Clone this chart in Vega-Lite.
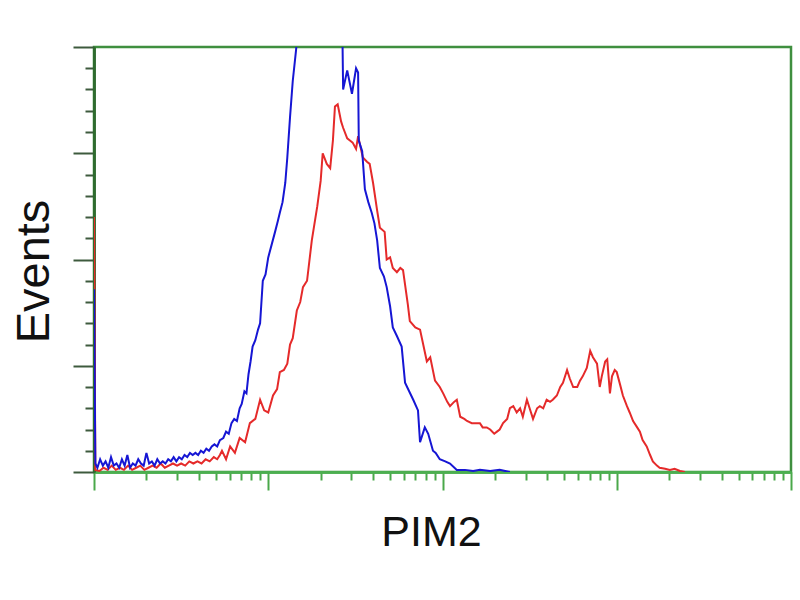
{
  "$schema": "https://vega.github.io/schema/vega-lite/v6.json",
  "width": 697,
  "height": 425,
  "autosize": "none",
  "padding": {"left": 94, "top": 47, "right": 9, "bottom": 128},
  "background": "white",
  "config": {
    "view": {"stroke": "#3f8f3f", "strokeWidth": 2.5},
    "axis": {"labels": false, "grid": false, "domainWidth": 2.5, "tickWidth": 2}
  },
  "datasets": {
    "blue": [
      {"ch": 0, "n": 86}, {"ch": 2, "n": 4}, {"ch": 5, "n": 2}, {"ch": 9, "n": 6}, {"ch": 13, "n": 3}, {"ch": 17, "n": 5},
      {"ch": 21, "n": 2}, {"ch": 25, "n": 7}, {"ch": 29, "n": 3}, {"ch": 33, "n": 4}, {"ch": 37, "n": 2}, {"ch": 41, "n": 6},
      {"ch": 45, "n": 3}, {"ch": 49, "n": 8}, {"ch": 53, "n": 2}, {"ch": 57, "n": 4}, {"ch": 61, "n": 3}, {"ch": 65, "n": 6},
      {"ch": 69, "n": 4}, {"ch": 73, "n": 3}, {"ch": 77, "n": 9}, {"ch": 81, "n": 4}, {"ch": 85, "n": 5}, {"ch": 89, "n": 3},
      {"ch": 93, "n": 6}, {"ch": 97, "n": 4}, {"ch": 101, "n": 5}, {"ch": 105, "n": 4}, {"ch": 109, "n": 6}, {"ch": 113, "n": 5},
      {"ch": 117, "n": 7}, {"ch": 121, "n": 5}, {"ch": 125, "n": 7}, {"ch": 129, "n": 6}, {"ch": 133, "n": 8}, {"ch": 137, "n": 7},
      {"ch": 141, "n": 9}, {"ch": 145, "n": 8}, {"ch": 149, "n": 9}, {"ch": 153, "n": 8}, {"ch": 157, "n": 10}, {"ch": 161, "n": 9},
      {"ch": 165, "n": 11}, {"ch": 169, "n": 10}, {"ch": 173, "n": 12}, {"ch": 177, "n": 13}, {"ch": 181, "n": 12}, {"ch": 185, "n": 15},
      {"ch": 190, "n": 16}, {"ch": 194, "n": 19}, {"ch": 198, "n": 18}, {"ch": 202, "n": 23}, {"ch": 206, "n": 25}, {"ch": 210, "n": 24},
      {"ch": 214, "n": 30}, {"ch": 217, "n": 32}, {"ch": 221, "n": 38}, {"ch": 224, "n": 37}, {"ch": 227, "n": 46}, {"ch": 230, "n": 52},
      {"ch": 233, "n": 59}, {"ch": 237, "n": 62}, {"ch": 241, "n": 67}, {"ch": 244, "n": 70}, {"ch": 248, "n": 90}, {"ch": 252, "n": 93},
      {"ch": 256, "n": 101}, {"ch": 261, "n": 107}, {"ch": 266, "n": 113}, {"ch": 270, "n": 118}, {"ch": 273, "n": 122}, {"ch": 277, "n": 127},
      {"ch": 281, "n": 136}, {"ch": 284, "n": 148}, {"ch": 288, "n": 167}, {"ch": 292, "n": 184}, {"ch": 297, "n": 199}, {"ch": 301, "n": 215},
      {"ch": 310, "n": 235}, {"ch": 320, "n": 250}, {"ch": 332, "n": 262}, {"ch": 344, "n": 260}, {"ch": 354, "n": 245}, {"ch": 361, "n": 225},
      {"ch": 365, "n": 205}, {"ch": 366, "n": 180}, {"ch": 372, "n": 189}, {"ch": 379, "n": 178}, {"ch": 385, "n": 190}, {"ch": 388, "n": 188},
      {"ch": 389, "n": 156}, {"ch": 394, "n": 151}, {"ch": 398, "n": 133}, {"ch": 403, "n": 127}, {"ch": 408, "n": 122}, {"ch": 412, "n": 117},
      {"ch": 416, "n": 109}, {"ch": 420, "n": 96}, {"ch": 426, "n": 92}, {"ch": 430, "n": 87}, {"ch": 435, "n": 78}, {"ch": 439, "n": 68},
      {"ch": 445, "n": 64}, {"ch": 452, "n": 59}, {"ch": 457, "n": 42}, {"ch": 463, "n": 38}, {"ch": 469, "n": 34}, {"ch": 476, "n": 29},
      {"ch": 479, "n": 14}, {"ch": 486, "n": 21}, {"ch": 491, "n": 18}, {"ch": 498, "n": 10}, {"ch": 502, "n": 9}, {"ch": 508, "n": 6},
      {"ch": 516, "n": 5}, {"ch": 523, "n": 4}, {"ch": 533, "n": 1}, {"ch": 545, "n": 1}, {"ch": 557, "n": 0.5}, {"ch": 567, "n": 1},
      {"ch": 582, "n": 0.5}, {"ch": 596, "n": 1}, {"ch": 611, "n": 0}
    ],
    "red": [
      {"ch": 0, "n": 120}, {"ch": 2, "n": 1}, {"ch": 8, "n": 0.5}, {"ch": 14, "n": 2}, {"ch": 20, "n": 1}, {"ch": 26, "n": 3},
      {"ch": 32, "n": 1}, {"ch": 38, "n": 2}, {"ch": 44, "n": 1}, {"ch": 50, "n": 3}, {"ch": 56, "n": 1}, {"ch": 62, "n": 2},
      {"ch": 68, "n": 3}, {"ch": 74, "n": 1}, {"ch": 80, "n": 2}, {"ch": 86, "n": 3}, {"ch": 92, "n": 2}, {"ch": 98, "n": 4},
      {"ch": 104, "n": 2}, {"ch": 110, "n": 3}, {"ch": 116, "n": 4}, {"ch": 122, "n": 3}, {"ch": 128, "n": 4}, {"ch": 134, "n": 3},
      {"ch": 140, "n": 5}, {"ch": 146, "n": 4}, {"ch": 152, "n": 5}, {"ch": 158, "n": 4}, {"ch": 164, "n": 6}, {"ch": 170, "n": 5},
      {"ch": 176, "n": 7}, {"ch": 181, "n": 6}, {"ch": 185, "n": 8}, {"ch": 188, "n": 10}, {"ch": 194, "n": 6}, {"ch": 200, "n": 12},
      {"ch": 207, "n": 9}, {"ch": 214, "n": 16}, {"ch": 222, "n": 14}, {"ch": 229, "n": 23}, {"ch": 237, "n": 25}, {"ch": 244, "n": 34},
      {"ch": 250, "n": 29}, {"ch": 256, "n": 28}, {"ch": 263, "n": 36}, {"ch": 269, "n": 39}, {"ch": 273, "n": 47}, {"ch": 279, "n": 48},
      {"ch": 284, "n": 51}, {"ch": 288, "n": 60}, {"ch": 292, "n": 63}, {"ch": 298, "n": 76}, {"ch": 303, "n": 80}, {"ch": 307, "n": 87},
      {"ch": 313, "n": 90}, {"ch": 320, "n": 109}, {"ch": 328, "n": 125}, {"ch": 333, "n": 137}, {"ch": 336, "n": 150}, {"ch": 342, "n": 145},
      {"ch": 347, "n": 143}, {"ch": 351, "n": 156}, {"ch": 354, "n": 172}, {"ch": 358, "n": 173}, {"ch": 363, "n": 165}, {"ch": 366, "n": 162},
      {"ch": 372, "n": 157}, {"ch": 376, "n": 156}, {"ch": 380, "n": 155}, {"ch": 385, "n": 152}, {"ch": 388, "n": 158}, {"ch": 395, "n": 148},
      {"ch": 401, "n": 146}, {"ch": 405, "n": 145}, {"ch": 410, "n": 136}, {"ch": 416, "n": 123}, {"ch": 420, "n": 115}, {"ch": 427, "n": 113},
      {"ch": 430, "n": 100}, {"ch": 435, "n": 101}, {"ch": 439, "n": 96}, {"ch": 445, "n": 94}, {"ch": 450, "n": 96}, {"ch": 454, "n": 95},
      {"ch": 461, "n": 79}, {"ch": 464, "n": 71}, {"ch": 472, "n": 68}, {"ch": 479, "n": 67}, {"ch": 485, "n": 58}, {"ch": 489, "n": 52},
      {"ch": 494, "n": 54}, {"ch": 501, "n": 43}, {"ch": 508, "n": 40}, {"ch": 513, "n": 37}, {"ch": 519, "n": 33}, {"ch": 523, "n": 31},
      {"ch": 529, "n": 33}, {"ch": 533, "n": 34}, {"ch": 538, "n": 26}, {"ch": 544, "n": 25}, {"ch": 548, "n": 24}, {"ch": 555, "n": 23},
      {"ch": 563, "n": 23}, {"ch": 567, "n": 23}, {"ch": 571, "n": 21}, {"ch": 577, "n": 21}, {"ch": 582, "n": 20}, {"ch": 588, "n": 18},
      {"ch": 592, "n": 19}, {"ch": 596, "n": 20}, {"ch": 601, "n": 23}, {"ch": 607, "n": 25}, {"ch": 611, "n": 30}, {"ch": 616, "n": 31},
      {"ch": 621, "n": 28}, {"ch": 626, "n": 30}, {"ch": 630, "n": 26}, {"ch": 636, "n": 34}, {"ch": 640, "n": 30}, {"ch": 645, "n": 25},
      {"ch": 651, "n": 30}, {"ch": 655, "n": 31}, {"ch": 660, "n": 30}, {"ch": 665, "n": 34}, {"ch": 670, "n": 33}, {"ch": 674, "n": 34},
      {"ch": 680, "n": 36}, {"ch": 685, "n": 40}, {"ch": 689, "n": 42}, {"ch": 695, "n": 48}, {"ch": 699, "n": 44}, {"ch": 704, "n": 40},
      {"ch": 710, "n": 40}, {"ch": 714, "n": 43}, {"ch": 718, "n": 45}, {"ch": 724, "n": 49}, {"ch": 729, "n": 57}, {"ch": 733, "n": 54},
      {"ch": 739, "n": 51}, {"ch": 743, "n": 40}, {"ch": 746, "n": 45}, {"ch": 751, "n": 52}, {"ch": 754, "n": 53}, {"ch": 758, "n": 37},
      {"ch": 761, "n": 45}, {"ch": 765, "n": 48}, {"ch": 768, "n": 47}, {"ch": 773, "n": 41}, {"ch": 777, "n": 36}, {"ch": 783, "n": 31},
      {"ch": 787, "n": 28}, {"ch": 792, "n": 24}, {"ch": 798, "n": 21}, {"ch": 802, "n": 19}, {"ch": 806, "n": 15}, {"ch": 812, "n": 12},
      {"ch": 817, "n": 8}, {"ch": 821, "n": 5}, {"ch": 827, "n": 3}, {"ch": 831, "n": 2}, {"ch": 839, "n": 1.5}, {"ch": 846, "n": 1},
      {"ch": 853, "n": 1.5}, {"ch": 861, "n": 0.5}, {"ch": 868, "n": 0}
    ]
  },
  "layer": [
    {
      "data": {"name": "red"},
      "mark": {"type": "line", "color": "#e52a2a", "strokeWidth": 2, "clip": true, "interpolate": "linear"},
      "encoding": {
        "x": {
          "field": "ch", "type": "quantitative",
          "scale": {"domain": [0, 1024], "nice": false, "zero": false},
          "axis": {
            "orient": "bottom", "title": null,
            "values": [77.1, 122.1, 154.1, 178.9, 199.2, 216.3, 231.2, 244.3, 333.1, 378.1, 410.1, 434.9, 455.2, 472.3, 487.2, 500.3, 589.1, 634.1, 666.1, 690.9, 711.2, 728.3, 743.2, 756.3, 845.1, 890.1, 922.1, 946.9, 967.2, 984.3, 999.2, 1012.3],
            "tickSize": 8, "tickColor": "#4aa84a", "domainColor": "#4caf50"
          }
        },
        "y": {
          "field": "n", "type": "quantitative",
          "scale": {"domain": [0, 200], "nice": false},
          "axis": {
            "orient": "left", "title": null,
            "values": [10, 20, 30, 40, 60, 70, 80, 90, 110, 120, 130, 140, 160, 170, 180, 190],
            "tickSize": 9, "tickColor": "#3d5a3d", "domainColor": "#2f6b2f"
          }
        }
      }
    },
    {
      "data": {"name": "blue"},
      "mark": {"type": "line", "color": "#1616d4", "strokeWidth": 2, "clip": true, "interpolate": "linear"},
      "encoding": {
        "x": {
          "field": "ch", "type": "quantitative",
          "scale": {"domain": [0, 1024], "nice": false, "zero": false},
          "axis": {
            "orient": "bottom", "title": "PIM2",
            "values": [0, 256, 512, 768, 1024],
            "tickSize": 18, "tickColor": "#4aa84a", "domainColor": "#4caf50",
            "titleFont": "Liberation Sans", "titleFontSize": 43, "titleFontWeight": "normal", "titleColor": "#111111",
            "titleX": 337, "titleY": 73, "titleAlign": "center", "titleBaseline": "alphabetic", "titleAngle": 0
          }
        },
        "y": {
          "field": "n", "type": "quantitative",
          "scale": {"domain": [0, 200], "nice": false},
          "axis": {
            "orient": "left", "title": "Events",
            "values": [0, 50, 100, 150, 200],
            "tickSize": 21, "tickColor": "#3d5a3d", "domainColor": "#2f6b2f",
            "titleFont": "Liberation Sans", "titleFontSize": 47, "titleFontWeight": "normal", "titleColor": "#111111",
            "titleX": -46, "titleY": 224, "titleAlign": "center", "titleBaseline": "alphabetic", "titleAngle": -90
          }
        }
      }
    }
  ],
  "resolve": {"axis": {"x": "independent", "y": "independent"}}
}
